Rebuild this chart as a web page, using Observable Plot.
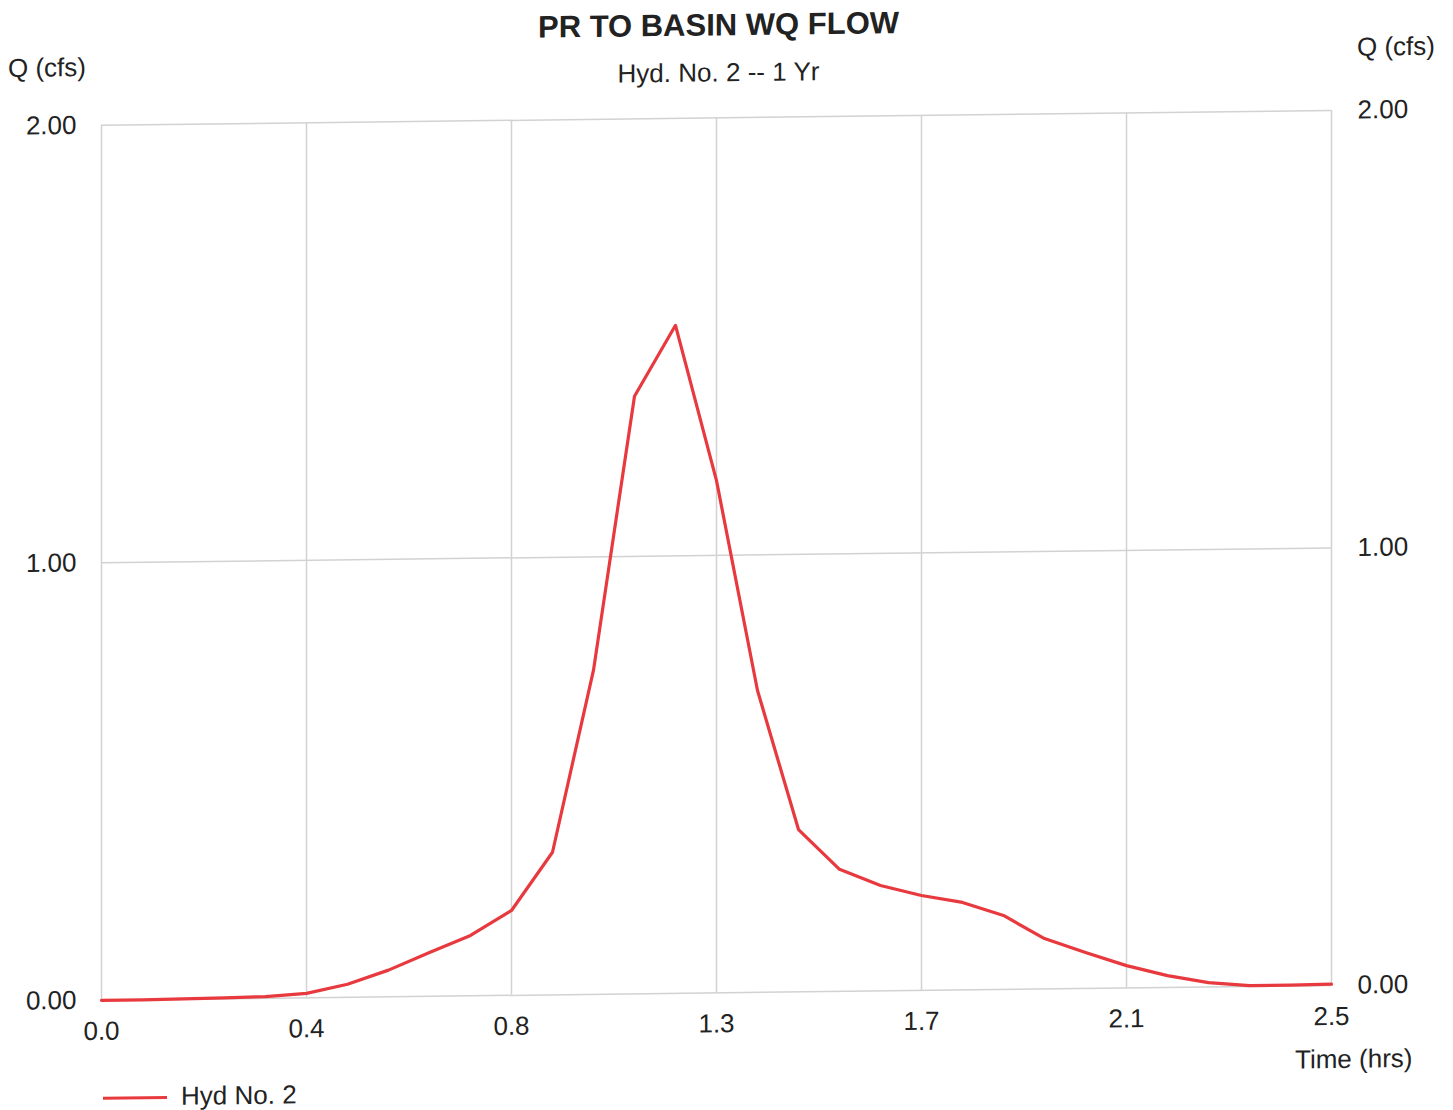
<!DOCTYPE html>
<html>
<head>
<meta charset="utf-8">
<script src="https://cdn.jsdelivr.net/npm/d3@7"></script>
<script src="https://cdn.jsdelivr.net/npm/@observablehq/plot@0.6"></script>
<style>
  html, body { margin: 0; padding: 0; background: #fff; }
  #wrap { position: relative; width: 1453px; height: 1110px; overflow: visible; font-family: "Liberation Sans", Arial, sans-serif; color: #222;
          transform: skewY(-0.69deg); transform-origin: 0 0; }
  #wrap svg { position: absolute; left: 0; top: 0; }
  .t { position: absolute; white-space: nowrap; line-height: 1; }
  body { overflow: hidden; }
</style>
</head>
<body>
<div id="wrap">
  <div id="chart"></div>
  <div class="t" style="left:0;width:1437px;text-align:center;top:18px;font-size:31px;font-weight:bold;">PR TO BASIN WQ FLOW</div>
  <div class="t" style="left:0;width:1437px;text-align:center;top:68px;font-size:26px;">Hyd. No. 2 -- 1 Yr</div>
  <div class="t" style="left:8px;top:55px;font-size:26px;">Q (cfs)</div>
  <div class="t" style="left:1357px;top:50px;font-size:26px;">Q (cfs)</div>
  <div class="t" style="left:1295px;top:1062px;font-size:26px;">Time (hrs)</div>
  <div style="position:absolute;left:103px;top:1098px;width:64px;height:3px;background:#e8393e;"></div>
  <div class="t" style="left:181px;top:1085px;font-size:26px;">Hyd No. 2</div>
</div>
<script>
const timeMin = [0, 5, 10, 15, 20, 25, 30, 35, 40, 45, 50, 55, 60, 65, 70, 75,
                 80, 85, 90, 95, 100, 105, 110, 115, 120, 125, 130, 135, 140, 145, 150];
const flowCfs = [0.000, 0.000, 0.001, 0.002, 0.004, 0.010, 0.030, 0.061, 0.100, 0.138, 0.194,
                 0.326, 0.741, 1.366, 1.527, 1.171, 0.690, 0.371, 0.279, 0.241, 0.217,
                 0.200, 0.169, 0.115, 0.082, 0.051, 0.027, 0.010, 0.002, 0.002, 0.003];
const xTicks = [0, 0.41667, 0.83333, 1.25, 1.66667, 2.08333, 2.5];
const xTickLabels = ["0.0", "0.4", "0.8", "1.3", "1.7", "2.1", "2.5"];
const yTicks = [0, 1, 2];
const yTickLabels = ["0.00", "1.00", "2.00"];
const seriesName = "Hyd No. 2";

const data = timeMin.map((m, i) => ({time: m / 60, flow: flowCfs[i], series: seriesName}));
const xLab = new Map(xTicks.map((t, i) => [t, xTickLabels[i]]));
const yLab = new Map(yTicks.map((t, i) => [t, yTickLabels[i]]));

const chart = Plot.plot({
  width: 1453,
  height: 1110,
  marginLeft: 101,
  marginRight: 122,
  marginTop: 126,
  marginBottom: 109,
  x: {domain: [0, 2.5]},
  y: {domain: [0, 2]},
  style: {fontFamily: '"Liberation Sans", Arial, sans-serif', fontSize: "26px", color: "#222", background: "transparent", overflow: "visible"},
  marks: [
    Plot.ruleX(xTicks, {stroke: "#d2d2d2", strokeWidth: 1.5}),
    Plot.ruleY(yTicks, {stroke: "#d2d2d2", strokeWidth: 1.5}),
    Plot.axisX({ticks: xTicks, tickFormat: d => xLab.get(d), tickSize: 0, tickPadding: 21, label: null, fontSize: 26}),
    Plot.axisY({anchor: "left", ticks: yTicks, tickFormat: d => yLab.get(d), tickSize: 0, tickPadding: 25, label: null, fontSize: 26}),
    Plot.axisY({anchor: "right", ticks: yTicks, tickFormat: d => yLab.get(d), tickSize: 0, tickPadding: 26, label: null, fontSize: 26}),
    Plot.line(data, {x: "time", y: "flow", stroke: "#e8393e", strokeWidth: 3.2})
  ]
});
document.getElementById("chart").appendChild(chart);
</script>
</body>
</html>
